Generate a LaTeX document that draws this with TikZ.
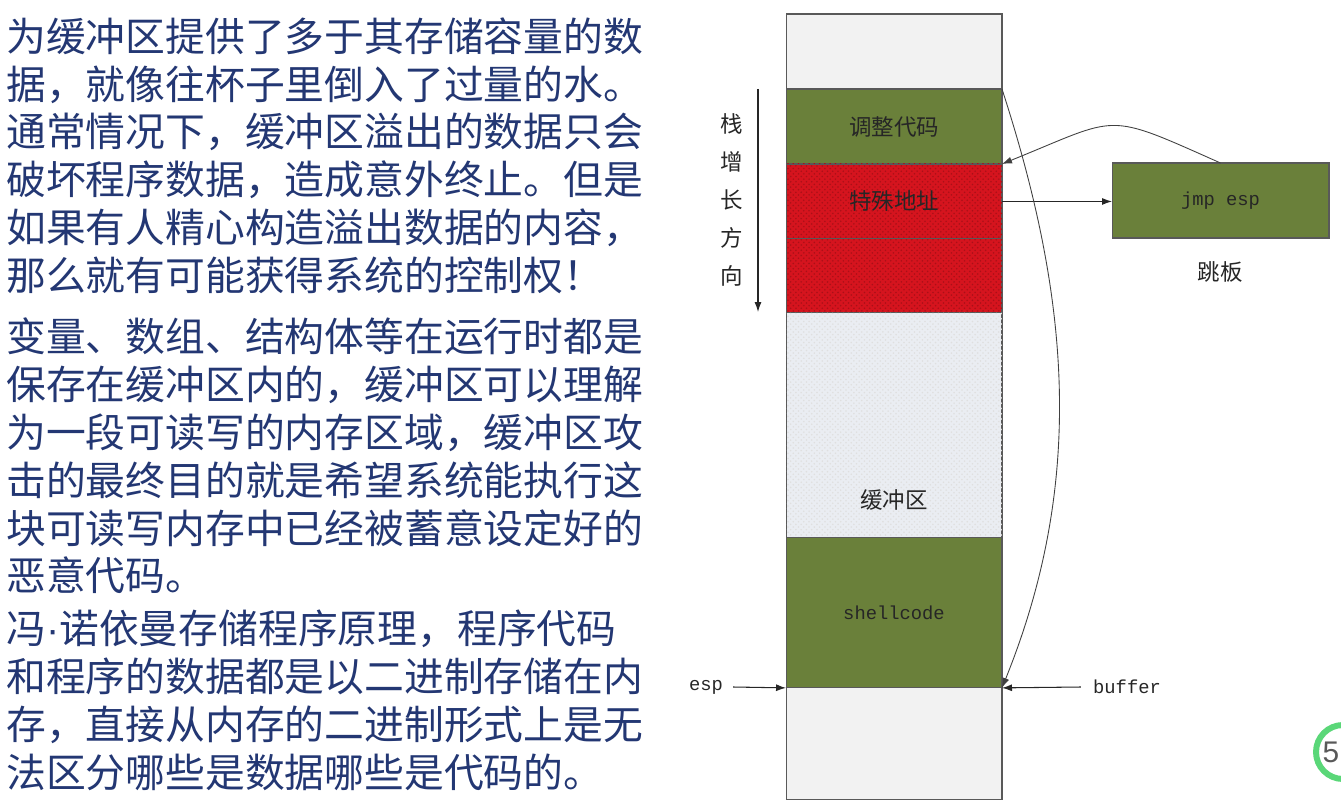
\documentclass[tikz,border=0pt]{standalone}
\usepackage{fontspec}
\setmainfont{Liberation Serif}
\newfontfamily\cjk{Noto Sans CJK SC}
\newfontfamily\codefont{Liberation Mono}
\newfontfamily\badgefont{Liberation Sans}
\usepackage{tikz}
\usetikzlibrary{arrows.meta,positioning,patterns}
\definecolor{Olive}{RGB}{106,128,58}
\definecolor{Rouge}{RGB}{213,20,30}
\definecolor{Encre}{RGB}{35,55,115}
\definecolor{Pale}{RGB}{242,242,242}
\definecolor{Brume}{RGB}{234,237,242}
\definecolor{Badge}{RGB}{90,215,120}
\tikzset{
  block/.style={draw=gray!70!black, line width=0.6pt, minimum width=4.32cm,
    inner sep=0pt, outer sep=0pt, text=black!85,
    font=\cjk\fontsize{12.8pt}{15pt}\selectfont},
  para/.style={anchor=north west, inner sep=0pt, align=left, text=Encre,
    font=\cjk\fontsize{22.65pt}{27.3pt}\selectfont},
  code/.style={text=black!85, font=\codefont\fontsize{10.7pt}{13pt}\selectfont},
  arr/.style={-{Latex[length=2mm,width=1.4mm]}, line width=0.6pt, black!85},
  jumparc/.style={-{Latex[length=2mm,width=1.4mm]}, line width=0.5pt, gray!50!black},
}

\begin{document}
\begin{tikzpicture}[x=0.02cm, y=0.02cm]
\useasboundingbox (0,0) rectangle (1341,809);
%
% left text
\node (p1) [para] at (6,792) {为缓冲区提供了多于其存储容量的数\\
据，就像往杯子里倒入了过量的水。\\
通常情况下，缓冲区溢出的数据只会\\
破坏程序数据，造成意外终止。但是\\
如果有人精心构造溢出数据的内容，\\
那么就有可能获得系统的控制权！};
\node (p2) [para] at (6,492) {变量、数组、结构体等在运行时都是\\
保存在缓冲区内的，缓冲区可以理解\\
为一段可读写的内存区域，缓冲区攻\\
击的最终目的就是希望系统能执行这\\
块可读写内存中已经被蓄意设定好的\\
恶意代码。};
\node (p3) [para] at (6,199) {冯{\badgefont ·}诺依曼存储程序原理，程序代码\\
和程序的数据都是以二进制存储在内\\
存，直接从内存的二进制形式上是无\\
法区分哪些是数据哪些是代码的。};
%
% stack column
\node (top) [block, fill=Pale, minimum height=1.5cm] at (894,757.5) {};
\node (adjust) [block, fill=Olive, minimum height=1.5cm, below=0pt of top] {调整代码};
\node (addr) [block, fill=Rouge, minimum height=1.5cm, below=0pt of adjust,
  postaction={pattern=crosshatch dots, pattern color=Rouge!80!black}] {特殊地址};
\node (fill) [block, fill=Rouge, minimum height=1.48cm, below=0pt of addr,
  postaction={pattern=crosshatch dots, pattern color=Rouge!80!black}] {};
\node (buf) [block, fill=Brume, minimum height=4.5cm, below=0pt of fill,
  postaction={pattern=crosshatch dots, pattern color=gray!25}] {};
\node (shell) [block, fill=Olive, minimum height=3cm, below=0pt of buf] {\codefont\fontsize{10.7pt}{13pt}\selectfont shellcode};
\node (bottom) [block, fill=Pale, minimum height=2.24cm, below=0pt of shell] {};
\node (buflabel) [block, draw=none, minimum width=0pt] at (894,309) {缓冲区};
%
% stack growth
\node (grow) [align=center, inner sep=0pt, text=black!85,
  font=\cjk\fontsize{12.8pt}{21.6pt}\selectfont] at (732,609) {栈\\增\\长\\方\\向};
\coordinate (growtop) at (758,720);
\coordinate (growend) at (758,497);
\draw[arr] (growtop) -- (growend);
%
% trampoline
\node (jmp) [block, fill=Olive, minimum width=4.34cm, minimum height=1.5cm] at (1220.5,608.5)
  {\codefont\fontsize{10.7pt}{13pt}\selectfont jmp esp};
\node (tramp) [text=black!85, font=\cjk\fontsize{12.8pt}{15pt}\selectfont] at (1220,537) {跳板};
\draw[arr] (addr.east) -- (addr.east -| jmp.west);
\draw[jumparc] (jmp.north) to[out=156, in=22, looseness=1.5] (adjust.south east);
\draw[jumparc] (adjust.north east) to[out=-72, in=68, looseness=0.95] (shell.south east);
%
% pointers
\node (esp) [code] at (706,122) {esp};
\node (buffer) [code] at (1127,122) {buffer};
\draw[arr] (esp.east) ++(4,0) -- (shell.south west);
\draw[arr] (buffer.west) ++(-6,0) -- (shell.south east);
%
% page badge
\draw[Badge, line width=3.4pt, fill=white] (1343,57) circle[radius=27];
\node (page) [text=gray!70!black, font=\badgefont\fontsize{17pt}{20pt}\selectfont] at (1331,57) {5};
\end{tikzpicture}
\end{document}
